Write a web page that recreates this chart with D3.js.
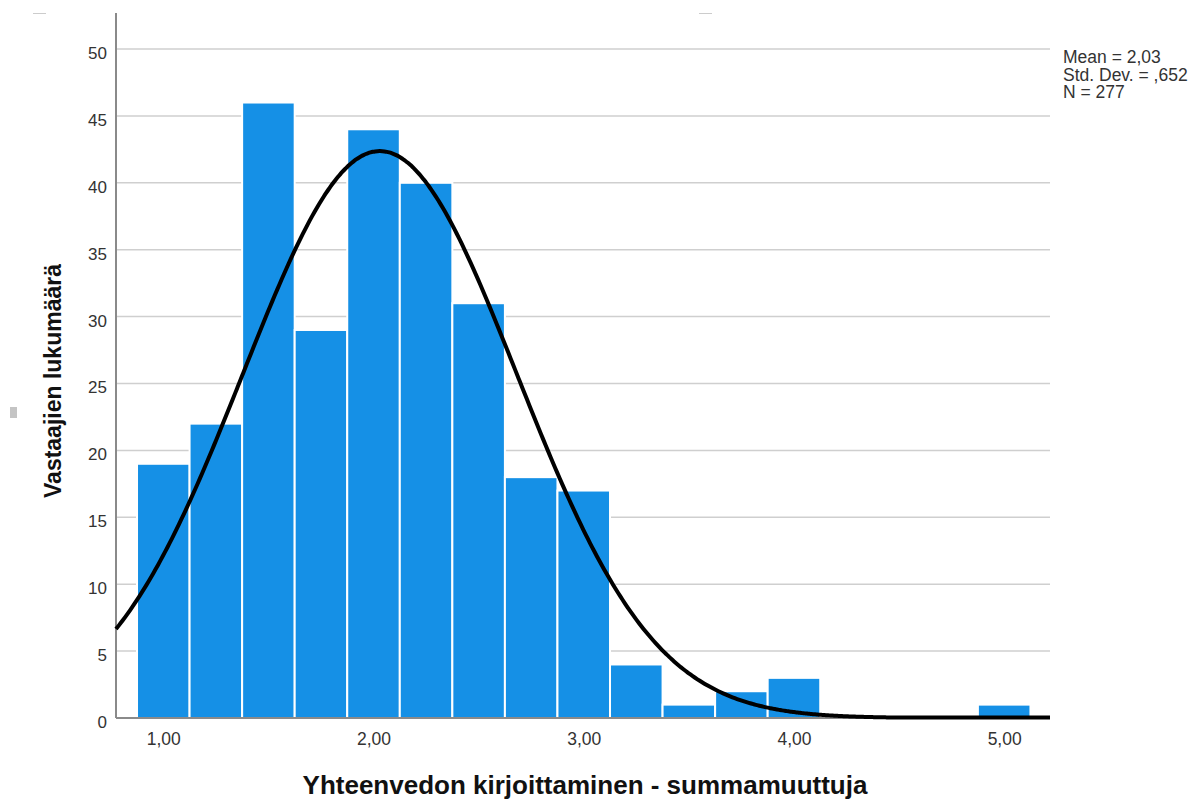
<!DOCTYPE html>
<html>
<head>
<meta charset="utf-8">
<script src="https://cdn.jsdelivr.net/npm/d3@7"></script>
<style>
  html, body { margin: 0; padding: 0; background: #fff; }
  svg { display: block; }
</style>
</head>
<body>
<svg id="chart" width="1191" height="799"></svg>
<script>
// ---- data ----
const binStarts = [0.875, 1.125, 1.375, 1.625, 1.875, 2.125, 2.375, 2.625, 2.875, 3.125, 3.375, 3.625, 3.875, 4.875];
const binCounts = [19, 22, 46, 29, 44, 40, 31, 18, 17, 4, 1, 2, 3, 1];
const binWidth = 0.25;
const xTicks = [1, 2, 3, 4, 5];
const yTicks = [0, 5, 10, 15, 20, 25, 30, 35, 40, 45, 50];
const stats = { mean: 2.03, sd: 0.652, n: 277 };
const legendLines = ["Mean = 2,03", "Std. Dev. = ,652", "N = 277"];
const xTitle = "Yhteenvedon kirjoittaminen - summamuuttuja";
const yTitle = "Vastaajien lukumäärä";

// ---- layout ----
const svg = d3.select("#chart");
const mLeft = 116, mRight = 1050, mTop = 13, mBottom = 718;
const font = "Liberation Sans, Arial, sans-serif";

const x = d3.scaleLinear().domain([0.775, 5.218]).range([mLeft, mRight]);
const y = d3.scaleLinear().domain([0, 50]).range([mBottom, 49]);

const fmt = v => d3.format(".2f")(v).replace(".", ",");

// gridlines
svg.append("g").selectAll("line").data(yTicks.filter(d => d > 0)).join("line")
  .attr("x1", mLeft).attr("x2", mRight)
  .attr("y1", d => y(d)).attr("y2", d => y(d))
  .attr("stroke", "#cfcfcf").attr("stroke-width", 1.5);

// bars
svg.append("g").selectAll("rect").data(binStarts.map((s, i) => ({ s, c: binCounts[i] }))).join("rect")
  .attr("x", d => x(d.s))
  .attr("width", d => x(d.s + binWidth) - x(d.s))
  .attr("y", d => y(d.c))
  .attr("height", d => y(0) - y(d.c))
  .attr("fill", "#1590e6")
  .attr("stroke", "#ffffff").attr("stroke-width", 2);

// y axis line and baseline
svg.append("line").attr("x1", mLeft).attr("x2", mLeft).attr("y1", mTop).attr("y2", mBottom)
  .attr("stroke", "#8a8a8a").attr("stroke-width", 2);
svg.append("line").attr("x1", mLeft).attr("x2", mRight).attr("y1", mBottom).attr("y2", mBottom)
  .attr("stroke", "#8a8a8a").attr("stroke-width", 2);

// y tick labels via axis
const yAxis = svg.append("g").attr("transform", `translate(${mLeft},4)`)
  .call(d3.axisLeft(y).tickValues(yTicks).tickSize(0).tickPadding(9));
yAxis.select(".domain").remove();
yAxis.selectAll("text").attr("font-family", font)
  .attr("font-size", 17).attr("fill", "#333");

// x tick labels via axis
const xAxis = svg.append("g").attr("transform", `translate(0,${mBottom})`)
  .call(d3.axisBottom(x).tickValues(xTicks).tickFormat(fmt).tickSize(0).tickPadding(15));
xAxis.select(".domain").remove();
xAxis.selectAll("text").attr("font-family", font)
  .attr("font-size", 17.5).attr("fill", "#333");

// normal curve
const scaleK = stats.n * binWidth / (stats.sd * Math.sqrt(2 * Math.PI));
const curvePts = d3.range(0, 401).map(i => {
  const v = 0.775 + (5.218 - 0.775) * i / 400;
  const z = (v - stats.mean) / stats.sd;
  return [v, scaleK * Math.exp(-0.5 * z * z)];
});
svg.append("path").datum(curvePts)
  .attr("d", d3.line().x(d => x(d[0])).y(d => Math.min(y(d[1]), mBottom - 0.5)).curve(d3.curveBasis))
  .attr("fill", "none").attr("stroke", "#000").attr("stroke-width", 4);

// legend
svg.append("g").selectAll("text").data(legendLines).join("text")
  .attr("x", 1063).attr("y", (d, i) => 63 + i * 17.5)
  .attr("font-family", font)
  .attr("font-size", 17.5).attr("fill", "#333").text(d => d);

// axis titles
svg.append("text").attr("x", 585).attr("y", 794).attr("text-anchor", "middle")
  .attr("font-family", font).attr("font-weight", "bold")
  .attr("font-size", 26).attr("fill", "#111").text(xTitle);
svg.append("text").attr("transform", "translate(61,381) rotate(-90)").attr("text-anchor", "middle")
  .attr("font-family", font).attr("font-weight", "bold")
  .attr("font-size", 23).attr("fill", "#111").text(yTitle);

// small artifacts in the original
svg.append("rect").attr("x", 10).attr("y", 407).attr("width", 7).attr("height", 11).attr("fill", "#c4c4c4");
svg.append("line").attr("x1", 33).attr("x2", 46).attr("y1", 13.5).attr("y2", 13.5).attr("stroke", "#ccc");
svg.append("line").attr("x1", 699).attr("x2", 712).attr("y1", 13.5).attr("y2", 13.5).attr("stroke", "#ccc");
</script>
</body>
</html>
